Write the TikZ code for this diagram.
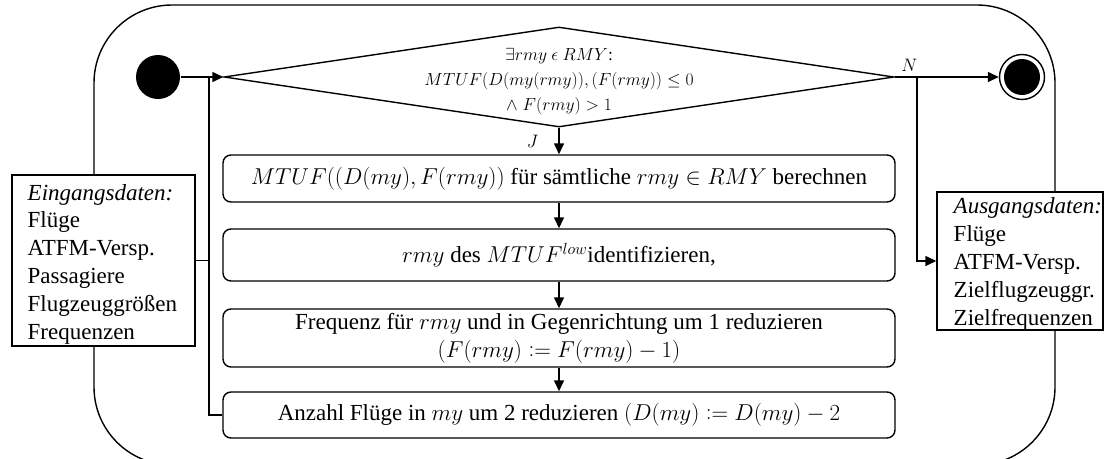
\RequirePackage{fix-cm}
\documentclass[tikz,border=0pt]{standalone}
\usepackage{fontspec}
\setmainfont{Liberation Serif}
\usetikzlibrary{shapes.geometric,arrows.meta}
\newcommand{\cassign}{\mathrel{\mathop:}=}
\begin{document}
\begin{tikzpicture}[x=1pt,y=-1pt, line width=1.4pt,
  stepbox/.style={draw, rounded corners=8pt, minimum width=672pt, inner sep=0pt, align=center, font=\fontsize{23}{28}\selectfont},
  databox/.style={draw, fill=white, inner sep=0pt},
  datatext/.style={anchor=west, align=left, inner sep=0pt, font=\fontsize{23}{27.8}\selectfont},
  arr/.style={-{Triangle[length=11pt,width=10pt]}},
  lbl/.style={font=\fontsize{18}{20}\selectfont, inner sep=0pt}]
\useasboundingbox (0,0) rectangle (1108,458);
\begin{scope}
\clip (0,0) rectangle (1108,458);
\draw[rounded corners=78pt] (94,5) rectangle (1055,465);
\end{scope}
% decision
\node[draw, diamond, minimum width=670pt, minimum height=100pt, inner sep=0pt] (dec) at (559,77) {};
\node[font=\fontsize{17.5}{25}\selectfont, align=center, inner sep=0pt] (dectext) at (559,82)
  {$\exists rmy\ \epsilon\ RMY$:\\ $MTUF(D(my(rmy)),(F(rmy))\leq 0$\\ $\wedge\; F(rmy)>1$};
% start / end
\node[circle, fill=black, minimum size=44pt, inner sep=0pt] (start) at (158,77) {};
\node[circle, draw, fill=white, minimum size=45pt, inner sep=0pt] (end) at (1022,77) {};
\node[circle, fill=black, minimum size=36pt, inner sep=0pt] (endin) at (end) {};
% steps
\node[stepbox, minimum height=47pt] (b1) at (559,178.5) {$MTUF((D(my),F(rmy))$ für sämtliche $rmy\in RMY$ berechnen};
\node[stepbox, minimum height=52pt] (b2) at (559,255) {$rmy$ des $MTUF^{low}$identifizieren,};
\node[stepbox, minimum height=58pt] (b3) at (559,338) {Frequenz für $rmy$ und in Gegenrichtung um 1 reduzieren\\ $(F(rmy)\cassign F(rmy)-1)$};
\node[stepbox, minimum height=46pt] (b4) at (559,415) {Anzahl Flüge in $my$ um 2 reduzieren $(D(my)\cassign D(my)-2$};
% data boxes
\node[databox, minimum width=183pt, minimum height=171pt] (ein) at (103.5,260.5) {};
\node[datatext] (eintext) at (27,264) {\textit{Eingangsdaten:}\\Flüge\\ATFM-Versp.\\Passagiere\\Flugzeuggrößen\\Frequenzen};
\node[databox, minimum width=166pt, minimum height=138pt] (aus) at (1020,261) {};
\node[datatext] (austext) at (953,264) {\textit{Ausgangsdaten:}\\Flüge\\ATFM-Versp.\\Zielflugzeuggr.\\Zielfrequenzen};
% connectors
\coordinate (jl) at (209,77);
\coordinate (nb) at (917,77);
\draw[arr] (start) -- (dec.west);
\draw (b4.west) -| (jl);
\draw (ein.east) -- (ein.east -| jl);
\draw[arr] (dec.south) -- (b1.north) node[lbl, midway, left=20pt] {$J$};
\draw[arr] (b1.south) -- (b2.north);
\draw[arr] (b2.south) -- (b3.north);
\draw[arr] (b3.south) -- (b4.north);
\draw[arr] (dec.east) -- (end.west) node[lbl, pos=0.14, above=5pt] {$N$};
\draw[arr] (nb) |- (aus.west);
\end{tikzpicture}
\end{document}
